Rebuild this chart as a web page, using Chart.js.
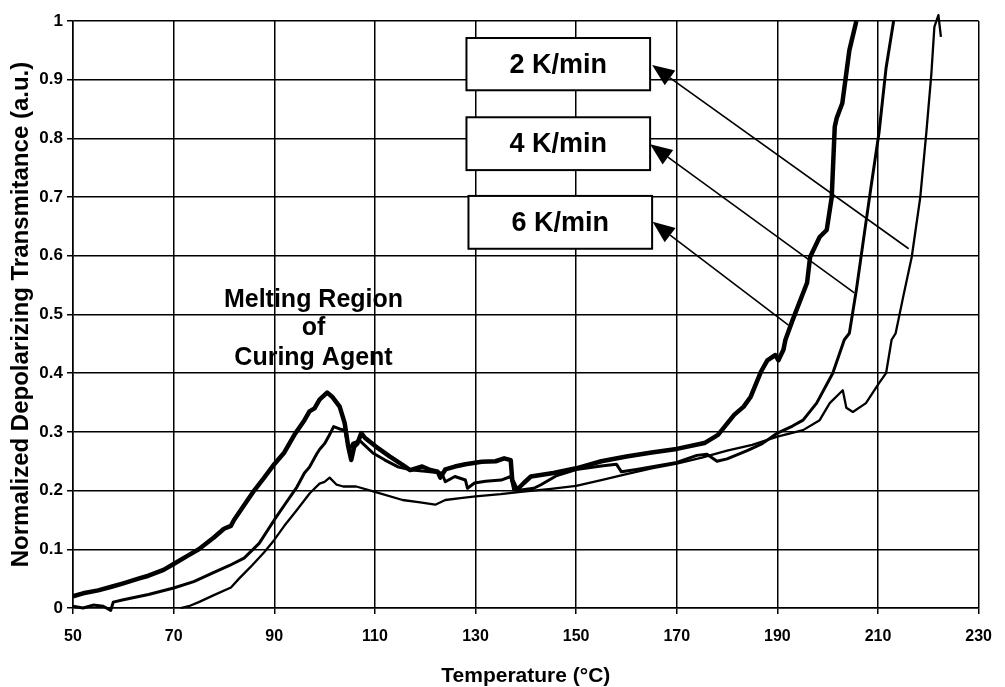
<!DOCTYPE html>
<html>
<head>
<meta charset="utf-8">
<title>Depolarizing Transmittance vs Temperature</title>
<script src="https://cdn.jsdelivr.net/npm/chart.js@4.4.1/dist/chart.umd.min.js"></script>
<style>
  html, body { margin: 0; padding: 0; background: #fff; }
  #wrap { width: 1005px; height: 687px; }
</style>
</head>
<body>
<div id="wrap"><canvas id="chart" width="1005" height="687"></canvas></div>
<script>
// --- DATA ---

const xTickValues = [50, 70, 90, 110, 130, 150, 170, 190, 210, 230];
const yTickValues = [0, 0.1, 0.2, 0.3, 0.4, 0.5, 0.6, 0.7, 0.8, 0.9, 1];

const seriesLabels = ['2 K/min', '4 K/min', '6 K/min'];

// 6 K/min (thick curve, first to rise)
const temp6 = [50, 52, 55, 58, 60, 63, 65, 68, 70, 73, 75, 78, 80, 81.4, 82, 84, 86, 88, 90, 92, 94, 96, 97, 98, 99, 100.5, 101.5, 103, 104, 104.7, 105.3, 105.9, 106.5, 107.3, 108, 110.2, 113, 115.5, 117, 119.4, 121, 122.5, 123, 124, 125.9, 128, 131.2, 134, 135.7, 137, 137.3, 138.2, 139.6, 141, 145.5, 150, 155, 160, 165, 170, 175.5, 178.2, 181.4, 183.3, 184.7, 186.7, 188, 189.6, 190.2, 191.2, 191.6, 193, 195.9, 196.5, 198.4, 199.8, 200.8, 201.4, 201.8, 202.9, 204.3, 205.7];
const trans6 = [0.02, 0.025, 0.03, 0.037, 0.042, 0.05, 0.055, 0.065, 0.075, 0.09, 0.1, 0.12, 0.135, 0.14, 0.15, 0.175, 0.2, 0.222, 0.245, 0.265, 0.295, 0.32, 0.335, 0.34, 0.355, 0.367, 0.36, 0.343, 0.315, 0.275, 0.252, 0.275, 0.28, 0.298, 0.29, 0.275, 0.258, 0.244, 0.235, 0.241, 0.235, 0.232, 0.222, 0.236, 0.241, 0.245, 0.249, 0.25, 0.255, 0.252, 0.218, 0.201, 0.213, 0.224, 0.23, 0.238, 0.25, 0.258, 0.265, 0.271, 0.281, 0.295, 0.329, 0.343, 0.36, 0.402, 0.422, 0.431, 0.422, 0.44, 0.457, 0.49, 0.554, 0.598, 0.632, 0.644, 0.7, 0.82, 0.835, 0.86, 0.95, 1.0];

// 4 K/min (middle curve)
const temp4 = [50, 52, 54, 56, 57.5, 58, 60, 65, 70, 74, 77.8, 81, 84, 87, 90, 92, 94.5, 96, 97, 98.4, 99, 100, 100.8, 101.8, 103, 104, 104.9, 105.6, 107, 109.6, 112, 114.7, 117.4, 120, 123.3, 124, 125.9, 128, 128.4, 129.8, 132, 135.1, 137, 137.6, 139, 141.6, 143, 146, 150, 155, 158, 159, 162, 166, 170, 174, 176, 178, 180, 184, 187, 190, 193, 195.1, 197.8, 201, 203.3, 204.3, 205.7, 207.3, 208.6, 210.2, 211.6, 213.1];
const trans4 = [0.003, 0.0, 0.005, 0.003, -0.004, 0.01, 0.014, 0.023, 0.034, 0.045, 0.06, 0.072, 0.085, 0.11, 0.15, 0.175, 0.206, 0.23, 0.24, 0.262, 0.27, 0.28, 0.292, 0.309, 0.305, 0.303, 0.269, 0.281, 0.285, 0.264, 0.252, 0.24, 0.235, 0.233, 0.23, 0.215, 0.224, 0.218, 0.204, 0.213, 0.216, 0.218, 0.224, 0.201, 0.201, 0.204, 0.21, 0.225, 0.236, 0.242, 0.245, 0.232, 0.236, 0.242, 0.248, 0.26, 0.262, 0.25, 0.254, 0.268, 0.28, 0.298, 0.31, 0.32, 0.349, 0.4, 0.457, 0.468, 0.542, 0.639, 0.717, 0.81, 0.92, 1.0];

// 2 K/min (thin curve, last to rise)
const temp2 = [71.4, 73, 75, 78, 81.4, 83, 85.3, 88, 90, 92, 94.5, 97.1, 99, 100, 101, 102.4, 103.7, 106.3, 110, 115.5, 119, 122, 124, 127, 130, 135, 139, 145, 150, 155, 160, 165, 170, 175, 180, 185, 190, 195.1, 198.4, 200.4, 203, 203.7, 205, 207.6, 210.2, 211.6, 212.7, 213.5, 215, 216.7, 218.4, 219.6, 220.6, 221.2, 222, 222.5];
const trans2 = [0, 0.003, 0.01, 0.022, 0.035, 0.05, 0.07, 0.095, 0.116, 0.14, 0.167, 0.196, 0.212, 0.215, 0.222, 0.21, 0.207, 0.207, 0.198, 0.184, 0.18, 0.176, 0.184, 0.187, 0.19, 0.194, 0.198, 0.203, 0.208, 0.218, 0.228, 0.238, 0.246, 0.256, 0.268, 0.278, 0.292, 0.303, 0.32, 0.349, 0.371, 0.341, 0.334, 0.349, 0.383, 0.4, 0.457, 0.468, 0.53, 0.598, 0.7, 0.81, 0.91, 0.99, 1.01, 0.973];

// --- ANNOTATIONS (data coordinates) ---
const meltingText = ['Melting Region', 'of', 'Curing Agent'];
const meltingX = 97.8;
const meltingY = [0.525, 0.477, 0.426];

// one box per rate: [xLeft, xRight, yTop, yBottom]
const rateBoxes = [
    [128.2, 164.7, 0.971, 0.882],
    [128.2, 164.7, 0.836, 0.746],
    [128.6, 165.1, 0.702, 0.612]
];
// arrows: from a point on each curve to the box edge
const arrowFrom = [[216.1, 0.612], [205.3, 0.537], [192.2, 0.482]];
const arrowTo = [[165.1, 0.925], [164.7, 0.79], [165.2, 0.658]];

const FONT = '"Liberation Sans", Arial, Helvetica, sans-serif';

function toPoints(xs, ys) {
    return xs.map((v, i) => ({ x: v, y: ys[i] }));
}

const annotationPlugin = {
    id: 'chartAnnotations',
    afterDatasetsDraw(chart) {
        const { ctx, scales: { x, y } } = chart;
        ctx.save();
        ctx.fillStyle = '#000';
        ctx.strokeStyle = '#000';
        ctx.textAlign = 'center';
        ctx.textBaseline = 'middle';

        // Melting region label
        ctx.font = `bold 25px ${FONT}`;
        meltingText.forEach((t, i) => {
            ctx.fillText(t, x.getPixelForValue(meltingX), y.getPixelForValue(meltingY[i]));
        });

        // Arrows
        arrowFrom.forEach((from, i) => {
            const x0 = x.getPixelForValue(from[0]), y0 = y.getPixelForValue(from[1]);
            const x1 = x.getPixelForValue(arrowTo[i][0]), y1 = y.getPixelForValue(arrowTo[i][1]);
            const ang = Math.atan2(y1 - y0, x1 - x0);
            const headLen = 22, headHalf = 9;
            const bx = x1 - headLen * Math.cos(ang), by = y1 - headLen * Math.sin(ang);
            ctx.lineWidth = 1.6;
            ctx.beginPath();
            ctx.moveTo(x0, y0);
            ctx.lineTo(bx, by);
            ctx.stroke();
            ctx.beginPath();
            ctx.moveTo(x1, y1);
            ctx.lineTo(bx + headHalf * Math.sin(ang), by - headHalf * Math.cos(ang));
            ctx.lineTo(bx - headHalf * Math.sin(ang), by + headHalf * Math.cos(ang));
            ctx.closePath();
            ctx.fill();
        });

        // Rate boxes
        ctx.font = `bold 27px ${FONT}`;
        rateBoxes.forEach((b, i) => {
            const left = x.getPixelForValue(b[0]), right = x.getPixelForValue(b[1]);
            const top = y.getPixelForValue(b[2]), bottom = y.getPixelForValue(b[3]);
            ctx.fillStyle = '#fff';
            ctx.fillRect(left, top, right - left, bottom - top);
            ctx.lineWidth = 2;
            ctx.strokeRect(left, top, right - left, bottom - top);
            ctx.fillStyle = '#000';
            ctx.fillText(seriesLabels[i], (left + right) / 2, (top + bottom) / 2 + 1);
        });
        ctx.restore();
    }
};

const ctx = document.getElementById('chart');
new Chart(ctx, {
    type: 'line',
    data: {
        datasets: [
            { label: seriesLabels[0], data: toPoints(temp2, trans2), borderWidth: 2.3 },
            { label: seriesLabels[1], data: toPoints(temp4, trans4), borderWidth: 3 },
            { label: seriesLabels[2], data: toPoints(temp6, trans6), borderWidth: 4.5 }
        ].map(d => ({ ...d, borderColor: '#000', backgroundColor: '#000', pointRadius: 0, tension: 0, clip: 10, borderJoinStyle: 'round' }))
    },
    options: {
        responsive: false,
        devicePixelRatio: 1,
        animation: false,
        layout: { padding: { left: 0, top: 21, right: 14, bottom: 0 } },
        plugins: { legend: { display: false }, tooltip: { enabled: false } },
        scales: {
            x: {
                type: 'linear',
                min: 50, max: 230,
                afterFit: s => { s.height = 79; },
                afterBuildTicks: s => { s.ticks = xTickValues.map(v => ({ value: v })); },
                grid: { color: '#000', lineWidth: 1.5, tickLength: 6 },
                border: { color: '#000', width: 1.5 },
                ticks: { color: '#000', padding: 13, maxRotation: 0, autoSkip: false, font: { family: FONT, size: 16, weight: 'bold' } },
                title: { display: true, text: 'Temperature (°C)', color: '#000', padding: { top: 0, bottom: 0 }, font: { family: FONT, size: 21, weight: 'bold', lineHeight: 1 } }
            },
            y: {
                min: 0, max: 1,
                afterFit: s => { s.width = 73; },
                afterBuildTicks: s => { s.ticks = yTickValues.map(v => ({ value: v })); },
                grid: { color: '#000', lineWidth: 1.5, tickLength: 6 },
                border: { color: '#000', width: 1.5 },
                ticks: { color: '#000', padding: 4, callback: v => String(Math.round(v * 10) / 10), font: { family: FONT, size: 17, weight: 'bold' } },
                title: { display: true, text: 'Normalized Depolarizing Transmitance (a.u.)', color: '#000', padding: { top: 9, bottom: 0 }, font: { family: FONT, size: 24, weight: 'bold', lineHeight: 1 } }
            }
        }
    },
    plugins: [annotationPlugin]
});
</script>
</body>
</html>
